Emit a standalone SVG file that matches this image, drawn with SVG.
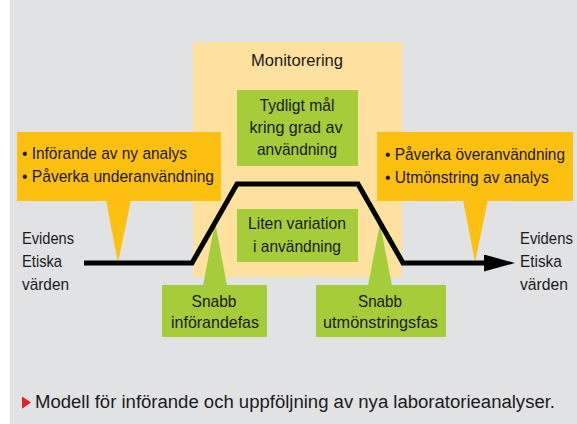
<svg xmlns="http://www.w3.org/2000/svg" width="577" height="424" viewBox="0 0 577 424">
<style>
text{font-family:"Liberation Sans",Arial,sans-serif;font-size:17px;fill:#1a1a1a}
.c{text-anchor:middle}
.orange{fill:#fdc010}
.green{fill:#a5cd39}
.mon{fill:#fee09f}
.line{fill:none;stroke:#000;stroke-width:5;stroke-linejoin:miter}
</style>
<defs>
<marker id="arr" markerUnits="userSpaceOnUse" markerWidth="32" markerHeight="18" refX="0" refY="8.5" orient="auto">
<path d="M0,0 L31,8.5 L0,17 Z" fill="#000"/>
</marker>
</defs>
<rect x="10" y="0" width="567" height="424" fill="#e1e2e4"/>
<g id="monitorering">
<rect class="mon" x="193" y="42" width="209" height="235"/>
<text class="c" x="297" y="66" textLength="92" lengthAdjust="spacingAndGlyphs">Monitorering</text>
</g>
<g id="tydligt-mal">
<rect class="green" x="237" y="90" width="121" height="76"/>
<text class="c" x="297" y="111" textLength="75" lengthAdjust="spacingAndGlyphs">Tydligt mål</text>
<text class="c" x="296" y="133" textLength="93" lengthAdjust="spacingAndGlyphs">kring grad av</text>
<text class="c" x="297" y="155" textLength="80" lengthAdjust="spacingAndGlyphs">användning</text>
</g>
<g id="liten-variation">
<rect class="green" x="237" y="209" width="121" height="53"/>
<text class="c" x="297" y="229" textLength="98" lengthAdjust="spacingAndGlyphs">Liten variation</text>
<text class="c" x="297" y="252" textLength="88" lengthAdjust="spacingAndGlyphs">i användning</text>
</g>
<g id="callout-left">
<rect class="orange" x="17" y="132" width="204" height="69"/>
<polygon class="orange" points="106,200 131,200 118,263"/>
<text x="22" y="159" textLength="165" lengthAdjust="spacingAndGlyphs">• Införande av ny analys</text>
<text x="22" y="182" textLength="192" lengthAdjust="spacingAndGlyphs">• Påverka underanvändning</text>
</g>
<g id="callout-right">
<rect class="orange" x="377" y="132" width="196" height="69"/>
<polygon class="orange" points="463,200 488,200 475,262"/>
<text transform="translate(385,160) scale(0.9,1)" x="0" y="0" textLength="200" lengthAdjust="spacingAndGlyphs">• Påverka överanvändning</text>
<text transform="translate(385,183) scale(0.9,1)" x="0" y="0" textLength="182" lengthAdjust="spacingAndGlyphs">• Utmönstring av analys</text>
</g>
<g id="snabb-inforandefas">
<rect class="green" x="162" y="285" width="105" height="52"/>
<polygon class="green" points="203,286 227,286 215,222"/>
<text class="c" x="214" y="307" textLength="45" lengthAdjust="spacingAndGlyphs">Snabb</text>
<text class="c" x="215" y="328" textLength="88" lengthAdjust="spacingAndGlyphs">införandefas</text>
</g>
<g id="snabb-utmonstringsfas">
<rect class="green" x="316" y="285" width="130" height="52"/>
<polygon class="green" points="368,286 392,286 380,223"/>
<text class="c" x="380" y="307" textLength="44" lengthAdjust="spacingAndGlyphs">Snabb</text>
<text class="c" x="380.5" y="328" textLength="115" lengthAdjust="spacingAndGlyphs">utmönstringsfas</text>
</g>
<g id="label-left">
<text x="22" y="244" textLength="52" lengthAdjust="spacingAndGlyphs">Evidens</text>
<text x="22" y="267" textLength="40" lengthAdjust="spacingAndGlyphs">Etiska</text>
<text x="22" y="290" textLength="47" lengthAdjust="spacingAndGlyphs">värden</text>
</g>
<g id="label-right">
<text transform="translate(520,244) scale(0.88,1)" x="0" y="0" textLength="60" lengthAdjust="spacingAndGlyphs">Evidens</text>
<text transform="translate(520,267) scale(0.88,1)" x="0" y="0" textLength="47.5" lengthAdjust="spacingAndGlyphs">Etiska</text>
<text transform="translate(520,290) scale(0.88,1)" x="0" y="0" textLength="54.5" lengthAdjust="spacingAndGlyphs">värden</text>
</g>
<g id="connectors">
<polyline class="line" points="84,263 192,263 237,184 358,184 403,263 484,263" marker-end="url(#arr)"/>
</g>
<g id="caption">
<polygon points="22,396.5 31,402.6 22,408.7" fill="#e31e24"/>
<text x="35" y="408" style="font-size:18px" textLength="520" lengthAdjust="spacingAndGlyphs">Modell för införande och uppföljning av nya laboratorieanalyser.</text>
</g>
</svg>
